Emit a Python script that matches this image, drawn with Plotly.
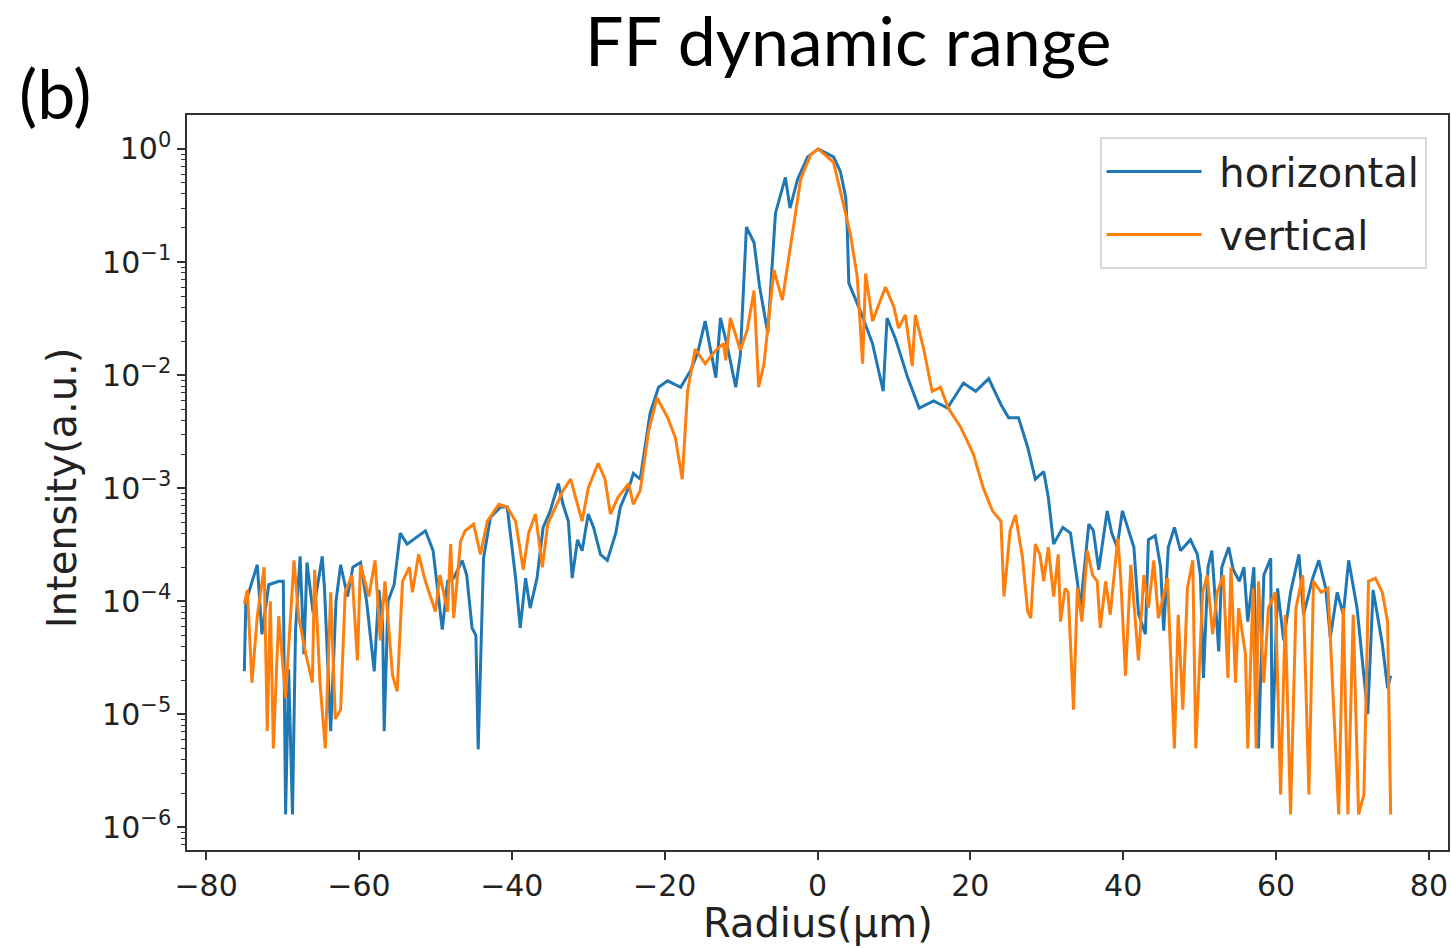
import plotly.graph_objects as go

# ---- data (x in µm, intensity in a.u.) ----
h_x = [-75.0, -74.8, -74.5, -73.3, -72.7, -71.8, -70.5, -69.9, -69.6, -69.2, -68.7, -68.3, -67.7, -67.2,
       -66.8, -66.0, -64.8, -64.5, -63.7, -63.0, -62.4, -61.5, -60.8, -59.8, -59.0, -58.0, -57.4, -56.9,
       -56.7, -56.2, -55.4, -54.6, -53.7, -52.4, -51.3, -50.3, -49.1, -48.4, -47.6, -46.5, -45.9, -45.2,
       -44.7, -44.4, -43.7, -42.8, -41.5, -40.6, -39.5, -38.9, -38.2, -37.6, -36.7, -35.9, -35.0, -33.9,
       -33.3, -32.6, -32.1, -31.4, -30.8, -30.0, -29.3, -28.4, -27.5, -26.4, -25.8, -24.5, -24.1, -23.2,
       -21.9, -20.8, -19.6, -17.9, -16.6, -15.7, -14.7, -13.3, -12.7, -11.8, -10.7, -10.1, -9.3, -8.3,
       -7.6, -6.5, -5.5, -4.2, -3.6, -2.6, -1.3, 0.1, 2.1, 3.0, 3.7, 3.9, 4.1, 5.6, 7.2, 8.6, 9.1, 10.2,
       11.8, 13.3, 15.2, 17.0, 19.1, 20.7, 22.4, 24.0, 25.0, 26.3, 27.5, 28.5, 29.6, 30.2, 30.9, 32.1,
       33.1, 34.0, 34.4, 35.5, 36.1, 36.8, 37.9, 38.5, 39.2, 39.9, 40.7, 41.4, 42.0, 42.9, 43.3, 44.2,
       44.9, 45.3, 45.9, 46.7, 47.5, 48.8, 49.7, 50.1, 50.5, 51.1, 51.6, 52.5, 52.9, 53.8, 54.4, 55.2,
       55.8, 56.3, 57.1, 57.7, 58.4, 59.3, 59.5, 60.2, 61.0, 61.9, 63.0, 63.6, 64.8, 65.6, 66.5, 67.1,
       68.0, 68.8, 69.5, 70.6, 72.0, 72.7, 73.9, 74.6, 75.0]
h_y = [2.4e-5, 1.0e-4, 1.15e-4, 2.1e-4, 5.1e-5, 1.4e-4, 1.5e-4, 1.5e-4, 1.3e-6, 2.5e-5, 1.3e-6, 5.5e-5,
       2.5e-4, 3.4e-5, 2.2e-4, 7.9e-5, 2.5e-4, 1.26e-4, 7.1e-6, 1.0e-4, 2.1e-4, 1.1e-4, 2.0e-4, 2.2e-4,
       1.0e-4, 2.4e-5, 1.26e-4, 6.3e-5, 7.1e-6, 1.0e-4, 1.4e-4, 4.0e-4, 3.2e-4, 3.7e-4, 4.2e-4, 2.8e-4,
       5.6e-5, 1.5e-4, 1.6e-4, 2.3e-4, 1.7e-4, 5.8e-5, 5.0e-5, 4.9e-6, 2.4e-4, 5.5e-4, 6.8e-4, 6.8e-4,
       1.6e-4, 5.8e-5, 1.6e-4, 8.7e-5, 1.6e-4, 4.5e-4, 6.2e-4, 1.1e-3, 7.2e-4, 5.1e-4, 1.6e-4, 3.5e-4,
       2.8e-4, 5.9e-4, 4.5e-4, 2.6e-4, 2.3e-4, 4.0e-4, 6.8e-4, 1.1e-3, 1.35e-3, 1.2e-3, 4.6e-3, 7.8e-3,
       8.9e-3, 7.8e-3, 1.1e-2, 1.55e-2, 3.0e-2, 9.5e-3, 3.2e-2, 1.8e-2, 7.8e-3, 1.5e-2, 0.204, 0.148,
       0.062, 0.0234, 0.27, 0.56, 0.30, 0.54, 0.85, 1.0, 0.85, 0.63, 0.37, 0.19, 0.065, 0.037, 0.019,
       7.2e-3, 3.2e-2, 2.1e-2, 9.5e-3, 5.1e-3, 5.9e-3, 5.1e-3, 8.5e-3, 7.2e-3, 9.3e-3, 5.5e-3, 4.2e-3,
       4.2e-3, 2.3e-3, 1.2e-3, 1.4e-3, 8.3e-4, 3.2e-4, 4.5e-4, 4.0e-4, 1.5e-4, 8.7e-5, 4.8e-4, 4.2e-4,
       1.9e-4, 6.3e-4, 4.0e-4, 3.0e-4, 6.3e-4, 4.2e-4, 3.0e-4, 7.8e-5, 5.1e-5, 3.5e-4, 3.8e-4, 2.0e-4,
       5.5e-5, 3.0e-4, 4.5e-4, 2.8e-4, 3.5e-4, 2.6e-4, 1.7e-4, 2.1e-5, 2.0e-4, 2.8e-4, 3.6e-5, 2.0e-4,
       3.0e-4, 1.9e-4, 1.5e-4, 2.0e-4, 6.6e-5, 2.0e-4, 5.0e-6, 1.7e-4, 2.4e-4, 5.0e-6, 1.3e-4, 4.5e-5,
       1.2e-4, 2.6e-4, 7.6e-5, 1.6e-4, 2.3e-4, 1.3e-4, 4.8e-5, 1.2e-4, 7.6e-5, 2.3e-4, 8.7e-5, 1.0e-5,
       1.26e-4, 4.2e-5, 1.7e-5, 2.2e-5]

v_x = [-75.0, -74.6, -74.0, -73.3, -72.4, -72.0, -71.6, -71.2, -70.5, -69.6, -68.5, -67.9, -67.1, -66.1,
       -65.8, -65.1, -64.4, -63.7, -63.1, -62.4, -61.8, -60.9, -60.2, -59.8, -58.7, -57.9, -57.2, -56.6,
       -55.6, -55.0, -54.3, -53.4, -53.0, -52.2, -51.3, -50.0, -49.4, -48.4, -48.0, -47.6, -46.7, -46.1,
       -45.0, -44.1, -43.2, -41.7, -40.6, -39.5, -38.5, -37.8, -36.9, -36.0, -35.3, -34.3, -33.3, -32.3,
       -30.8, -30.0, -28.7, -27.8, -27.1, -26.1, -24.7, -24.1, -23.2, -22.1, -21.0, -19.6, -18.6, -17.7,
       -17.0, -16.0, -14.7, -13.3, -12.3, -12.0, -11.4, -10.1, -9.2, -8.3, -7.7, -7.0, -5.7, -4.6, -3.3,
       -2.2, -0.9, 0.1, 2.1, 3.4, 4.3, 5.2, 5.9, 6.3, 7.2, 8.9, 10.0, 10.6, 11.5, 12.4, 12.8, 13.9, 15.0,
       16.1, 17.1, 18.7, 20.4, 21.7, 22.9, 24.0, 24.4, 25.2, 25.9, 26.8, 27.5, 27.9, 28.5, 29.1, 29.6,
       30.2, 30.9, 31.5, 31.8, 32.4, 32.8, 33.5, 34.0, 34.6, 35.3, 36.0, 36.6, 37.0, 37.7, 38.3, 39.3,
       39.7, 40.3, 41.0, 42.0, 42.7, 43.3, 44.0, 44.6, 45.8, 46.7, 47.2, 47.8, 48.4, 49.1, 49.5, 50.4,
       51.0, 51.7, 52.3, 53.1, 53.7, 54.1, 54.7, 55.1, 56.0, 56.3, 57.0, 57.4, 57.7, 58.4, 59.0, 59.9,
       60.6, 61.2, 61.9, 62.6, 63.5, 64.3, 64.9, 65.9, 66.8, 67.4, 68.2, 68.8, 69.4, 70.1, 70.8, 71.5,
       72.1, 73.0, 73.9, 74.6, 75.0]
v_y = [9.5e-5, 1.26e-4, 1.9e-5, 7.4e-5, 2.0e-4, 7.1e-6, 1.0e-4, 5.0e-6, 7.4e-5, 1.4e-5, 2.3e-4, 7.4e-5,
       3.8e-5, 1.9e-5, 1.9e-4, 1.9e-5, 5.0e-6, 1.2e-4, 9.1e-6, 1.1e-5, 1.2e-4, 1.7e-4, 3.0e-5, 2.1e-4,
       1.1e-4, 2.3e-4, 4.5e-5, 1.5e-4, 2.2e-5, 1.6e-5, 1.5e-4, 2.0e-4, 1.2e-4, 2.6e-4, 1.5e-4, 8.1e-5,
       1.7e-4, 8.1e-5, 3.2e-4, 7.1e-5, 3.4e-4, 4.2e-4, 4.8e-4, 2.6e-4, 5.1e-4, 7.2e-4, 6.8e-4, 5.1e-4,
       1.9e-4, 4.0e-4, 5.9e-4, 2.0e-4, 4.8e-4, 6.8e-4, 9.5e-4, 1.2e-3, 5.1e-4, 1.0e-3, 1.66e-3, 1.2e-3,
       5.9e-4, 8.3e-4, 1.1e-3, 7.2e-4, 9.5e-4, 3.2e-3, 6.3e-3, 4.2e-3, 2.8e-3, 1.2e-3, 7.2e-3, 1.7e-2,
       1.26e-2, 1.66e-2, 1.9e-2, 1.35e-2, 3.2e-2, 1.66e-2, 2.5e-2, 5.6e-2, 7.8e-3, 1.26e-2, 8.5e-2,
       4.6e-2, 0.166, 0.54, 0.89, 1.0, 0.76, 0.33, 0.178, 0.074, 1.26e-2, 7.9e-2, 3.0e-2, 6.0e-2, 4.0e-2,
       2.6e-2, 3.4e-2, 1.2e-2, 3.4e-2, 1.7e-2, 7.2e-3, 7.8e-3, 5.1e-3, 3.5e-3, 2.0e-3, 1.0e-3, 6.3e-4,
       5.1e-4, 1.1e-4, 4.2e-4, 5.8e-4, 2.5e-4, 8.1e-5, 7.1e-5, 3.2e-4, 2.6e-4, 1.5e-4, 3.0e-4, 1.1e-4,
       2.6e-4, 6.6e-5, 1.3e-4, 1.2e-4, 1.1e-5, 1.3e-4, 6.6e-5, 2.8e-4, 1.7e-4, 1.5e-4, 5.8e-5, 1.5e-4,
       7.6e-5, 3.6e-4, 1.5e-4, 2.2e-5, 2.1e-4, 3.0e-5, 1.7e-4, 8.7e-5, 2.3e-4, 7.1e-5, 1.6e-4, 5.0e-6,
       7.6e-5, 1.1e-5, 1.3e-4, 2.3e-4, 5.0e-6, 1.2e-4, 1.7e-4, 5.1e-5, 1.2e-4, 1.7e-4, 2.1e-5, 2.0e-4,
       1.9e-5, 8.7e-5, 3.4e-5, 5.0e-6, 1.3e-4, 5.0e-6, 1.5e-4, 1.9e-5, 8.7e-5, 1.2e-4, 1.95e-6, 7.6e-5,
       1.3e-6, 8.7e-5, 1.7e-4, 1.95e-6, 1.5e-4, 1.2e-4, 1.3e-4, 1.9e-5, 1.3e-6, 8.7e-5, 1.3e-6, 7.6e-5,
       1.3e-6, 1.95e-6, 1.5e-4, 1.6e-4, 1.2e-4, 6.6e-5, 1.3e-6]

series_names = ["horizontal", "vertical"]
series_colors = ["#1f77b4", "#ff7f0e"]

x_tickvals = [-80, -60, -40, -20, 0, 20, 40, 60, 80]
x_ticktext = ["\u221280", "\u221260", "\u221240", "\u221220", "0", "20", "40", "60", "80"]
y_exponents = [0, -1, -2, -3, -4, -5, -6]

TICK_FONT = dict(family="DejaVu Sans", size=30, color="#222222")

fig = go.Figure()
for i, (xs, ys, name, col) in enumerate([(h_x, h_y, series_names[0], series_colors[0]),
                                         (v_x, v_y, series_names[1], series_colors[1])]):
    fig.add_trace(go.Scatter(x=xs, y=ys, mode="lines", name="\u00a0" + name,
                             legendgroup="g%d" % i,
                             line=dict(color=col, width=3.0)))

y_tickvals = [10.0 ** e for e in y_exponents]
y_ticktext = ["10<sup>%s</sup>" % (str(e).replace("-", "\u2212")) for e in y_exponents]
minor_vals = [m * 10.0 ** e for e in range(-7, 1) for m in range(2, 10)]

fig.update_layout(
    width=1451, height=949,
    margin=dict(l=187, r=3, t=115, b=99),
    paper_bgcolor="white", plot_bgcolor="white",
    showlegend=True,
    legend=dict(x=0.983, y=0.970, xanchor="right", yanchor="top",
                bgcolor="rgba(255,255,255,0.9)", bordercolor="#d8d8d8", borderwidth=2,
                font=dict(family="DejaVu Sans", size=40, color="#222222"),
                itemwidth=95, tracegroupgap=8),
    xaxis=dict(range=[-82.5, 82.5], tickmode="array", tickvals=x_tickvals, ticktext=x_ticktext,
               ticks="outside", ticklen=8, tickwidth=1.5, tickcolor="#333333", automargin=False,
               showline=True, linecolor="#333333", linewidth=1.5, mirror=True,
               showgrid=False, zeroline=False, tickfont=TICK_FONT),
    yaxis=dict(type="log", range=[-6.2, 0.30], tickmode="array", tickvals=y_tickvals, ticktext=y_ticktext,
               ticks="outside", ticklen=8, tickwidth=1.5, tickcolor="#333333", automargin=False,
               minor=dict(ticks="outside", ticklen=4, tickwidth=1, tickcolor="#333333",
                          tickmode="array", tickvals=minor_vals, showgrid=False),
               showline=True, linecolor="#333333", linewidth=1.5, mirror=True,
               showgrid=False, zeroline=False, tickfont=TICK_FONT),
    annotations=[
        dict(text="FF dynamic range", xref="paper", yref="paper", x=0.524, y=1.103,
             xanchor="center", yanchor="middle", showarrow=False,
             font=dict(family="Lato", size=68, color="black")),
        dict(text="(b)", xref="paper", yref="paper", x=-0.105, y=1.030,
             xanchor="center", yanchor="middle", showarrow=False,
             font=dict(family="Lato", size=68, color="black")),
        dict(text="Radius(\u00b5m)", xref="paper", yref="paper", x=0.5, y=-0.099,
             xanchor="center", yanchor="middle", showarrow=False,
             font=dict(family="DejaVu Sans", size=40, color="#222222")),
        dict(text="Intensity(a.u.)", xref="paper", yref="paper", x=-0.099, y=0.4925,
             xanchor="center", yanchor="middle", showarrow=False, textangle=-90,
             font=dict(family="DejaVu Sans", size=40, color="#222222")),
    ],
)

fig.write_html("out.html", config={"displayModeBar": False},
               post_script="document.body.style.margin='0';document.body.style.overflow='hidden';")
